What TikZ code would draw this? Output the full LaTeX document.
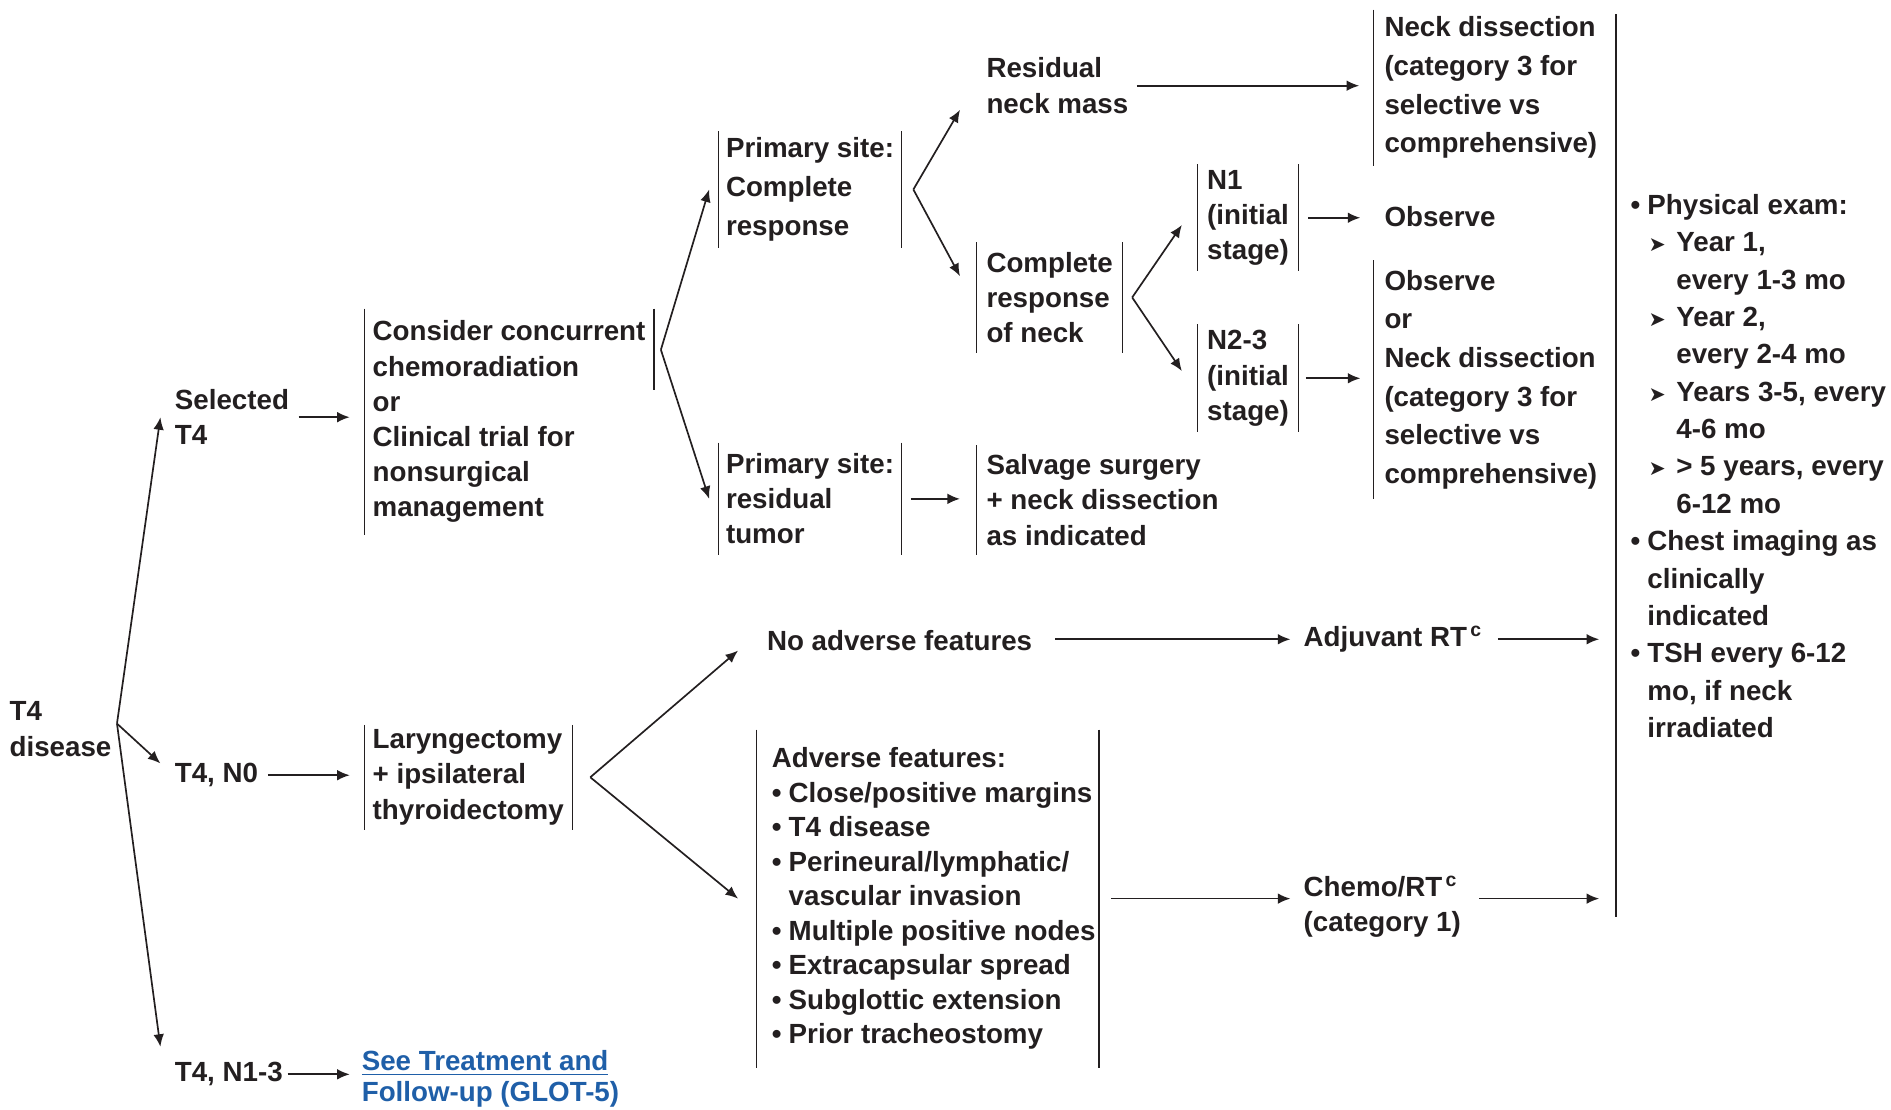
\documentclass[tikz,border=0pt]{standalone}
\usepackage{fontspec}
\setmainfont{Liberation Sans}
\newfontfamily\dvfont{DejaVu Sans}
\usetikzlibrary{arrows.meta}
\definecolor{ink}{HTML}{231F20}
\definecolor{linkblue}{HTML}{1F5FA8}
\newcommand{\ftA}{\fontsize{11.5pt}{14.6pt}\selectfont\bfseries}
\newcommand{\ftB}{\fontsize{11.5pt}{16pt}\selectfont\bfseries}
\newcommand{\ftC}{\fontsize{11.5pt}{15.5pt}\selectfont\bfseries}
\newcommand{\ftD}{\fontsize{11.5pt}{14.3pt}\selectfont\bfseries}
\newcommand{\ftE}{\fontsize{11.5pt}{16.2pt}\selectfont\bfseries}
\newcommand{\bul}{\makebox[7pt][l]{•}}
\newcommand{\subarr}{\hspace*{7.5pt}\makebox[11.5pt][l]{{\dvfont\fontsize{8.5pt}{8.5pt}\selectfont ➤}}}
\begin{document}
\begin{tikzpicture}[x=0.5pt,y=-0.5pt,
  txt/.style={inner sep=0pt, outer sep=0pt, align=left, anchor=north west, text=ink, font=\ftA},
  bar/.style={draw=ink, line width=0.5pt},
  arr/.style={draw=ink, line width=0.7pt, -{Latex[length=5.2pt,width=4.4pt]}}]
\useasboundingbox (0,0) rectangle (1568,920);

% ---- nodes ----
\node[txt] (t4) at (8,582) {T4\\disease};
\node[txt] (selT4) at (145,323) {Selected\\T4};
\node[txt] (t4n0) at (145,633) {T4, N0};
\node[txt] (t4n13) at (145,881) {T4, N1-3};
\node[txt, text=linkblue, font=\fontsize{11.5pt}{13pt}\selectfont\bfseries] (see) at (300,871)
  {\underline{See Treatment and}\\\underline{Follow-up (GLOT-5)}};

\node[txt, inner xsep=3.5pt, inner ysep=5pt] (consider) at (302,256)
  {Consider concurrent\\chemoradiation\\or\\Clinical trial for\\nonsurgical\\management};
\node[txt, font=\ftE, inner xsep=3pt, inner ysep=2.5pt] (psC) at (596,109)
  {Primary site:\\Complete\\response};
\node[txt] (resid) at (818,48) {Residual\\neck mass};
\node[txt, font=\ftB, inner xsep=4.5pt, inner ysep=3pt] (nd1) at (1139,8)
  {Neck dissection\\(category 3 for\\selective vs\\comprehensive)};
\node[txt, inner xsep=4pt, inner ysep=4pt] (crn) at (810,201)
  {Complete\\response\\of neck};
\node[txt, inner xsep=4pt, inner ysep=2.5pt] (n1) at (993,136) {N1\\(initial\\stage)};
\node[txt] (obs) at (1148,171) {Observe};
\node[txt, inner xsep=4pt, inner ysep=2.5pt] (n23) at (993,269) {N2-3\\(initial\\stage)};
\node[txt, font=\ftB, inner xsep=4.5pt, inner ysep=4pt] (nd2) at (1139,216)
  {Observe\\or\\Neck dissection\\(category 3 for\\selective vs\\comprehensive)};
\node[txt, inner xsep=3pt, inner ysep=4.5pt] (psR) at (596,367)
  {Primary site:\\residual\\tumor};
\node[txt, inner xsep=4pt, inner ysep=4pt] (salv) at (810,369)
  {Salvage surgery\\+ neck dissection\\as indicated};
\node[txt, inner xsep=3.5pt, inner ysep=2pt] (lar) at (302,601)
  {Laryngectomy\\+ ipsilateral\\thyroidectomy};
\node[txt] (noadv) at (636,523) {No adverse features};
\node[txt] (adj) at (1081,519) {Adjuvant RT\textsuperscript{\,c}};
\node[txt, font=\ftD, inner xsep=6.5pt, inner ysep=7.5pt] (adv) at (627,605)
  {Adverse features:\\
   \bul Close/positive margins\\
   \bul T4 disease\\
   \bul Perineural/lymphatic/\\
   \hspace*{7pt}vascular invasion\\
   \bul Multiple positive nodes\\
   \bul Extracapsular spread\\
   \bul Subglottic extension\\
   \bul Prior tracheostomy};
\node[txt] (chemo) at (1081,726) {Chemo/RT\textsuperscript{\,c}\\(category 1)};
\node[txt, font=\ftC, inner xsep=6pt, inner ysep=0pt] (fu) at (1340,161)
  {\bul Physical exam:\\
   \subarr Year 1,\\
   \hspace*{19pt}every 1-3 mo\\
   \subarr Year 2,\\
   \hspace*{19pt}every 2-4 mo\\
   \subarr Years 3-5, every\\
   \hspace*{19pt}4-6 mo\\
   \subarr > 5 years, every\\
   \hspace*{19pt}6-12 mo\\
   \bul Chest imaging as\\
   \hspace*{7pt}clinically\\
   \hspace*{7pt}indicated\\
   \bul TSH every 6-12\\
   \hspace*{7pt}mo, if neck\\
   \hspace*{7pt}irradiated};

% ---- bracket bars ----
\draw[bar] (consider.north west) -- (consider.south west);
\draw[bar] (consider.north east) -- ++(0,67);
\draw[bar] (psC.north west) -- (psC.south west);
\draw[bar] (psC.north east) -- (psC.south east);
\draw[bar] (nd1.north west) -- (nd1.south west);
\draw[bar] (crn.north west) -- (crn.south west);
\draw[bar] (crn.north east) -- (crn.south east);
\draw[bar] (n1.north west) -- (n1.south west);
\draw[bar] (n1.north east) -- (n1.south east);
\draw[bar] (n23.north west) -- (n23.south west);
\draw[bar] (n23.north east) -- (n23.south east);
\draw[bar] (nd2.north west) -- (nd2.south west);
\draw[bar] (psR.north west) -- (psR.south west);
\draw[bar] (psR.north east) -- (psR.south east);
\draw[bar] (salv.north west) -- (salv.south west);
\draw[bar] (lar.north west) -- (lar.south west);
\draw[bar] (lar.north east) -- (lar.south east);
\draw[bar] (adv.north west) -- (adv.south west);
\draw[bar] ([xshift=-5pt]adv.north east) -- ([xshift=-5pt]adv.south east);
\draw[bar, line width=0.6pt] (fu.west |- 0,12) -- (fu.west |- 0,760);

% ---- connectors ----
\coordinate (t4b) at (97,600);
\draw[arr] (t4b) -- ([xshift=-6pt]selT4.west);
\draw[arr] (t4b) -- ([xshift=-6pt]t4n0.north west);
\draw[arr] (t4b) -- ([xshift=-6pt,yshift=6.5pt]t4n13.north west);
\draw[arr, shorten <=4pt, shorten >=6pt] (selT4.east) -- (selT4.east -| consider.west);
\draw[arr, shorten <=4pt, shorten >=6pt] (t4n0.east) -- (t4n0.east -| lar.west);
\draw[arr, shorten <=2pt, shorten >=5pt] (t4n13.east) -- (t4n13.east -| see.west);

\coordinate (cb) at (548,290);
\draw[arr] (cb) -- ([xshift=-4pt]psC.west);
\draw[arr] (cb) -- ([xshift=-4pt]psR.west);

\coordinate (psCb) at ([xshift=5pt]psC.east);
\draw[arr] (psCb) -- ([xshift=-11pt,yshift=1.5pt]resid.south west);
\draw[arr] (psCb) -- ([xshift=-7pt,yshift=-14pt]crn.north west);
\draw[arr, shorten <=3.5pt, shorten >=6pt] (resid.east) -- (resid.east -| nd1.west);

\coordinate (crnb) at ([xshift=4pt]crn.east);
\draw[arr] (crnb) -- ([xshift=-6.5pt,yshift=-3pt]n1.west);
\draw[arr] (crnb) -- ([xshift=-6.5pt,yshift=3pt]n23.west);
\draw[arr, shorten <=4pt, shorten >=10pt] (n1.east) -- (n1.east -| obs.west);
\draw[arr, shorten <=3pt, shorten >=5.5pt] (n23.east) -- (n23.east -| nd2.west);
\draw[arr, shorten <=4pt, shorten >=7pt] (psR.east) -- (psR.east -| salv.west);

\coordinate (larb) at ([xshift=7.5pt]lar.east);
\draw[arr] (larb) -- ([xshift=-12pt,yshift=-4pt]noadv.west);
\draw[arr] (larb) -- ([xshift=-7.5pt]adv.west);
\draw[arr, shorten <=9.5pt, shorten >=5.5pt] (noadv.east |- adj.west) -- (adj.west);
\draw[arr, shorten <=6.5pt, shorten >=7pt] (adj.east) -- (adj.east -| fu.west);
\draw[arr, shorten >=5.5pt] (adv.east) -- (adv.east -| chemo.west);
\draw[arr, shorten <=7.5pt, shorten >=7pt] (chemo.east |- adv.east) -- (adv.east -| fu.west);
\end{tikzpicture}
\end{document}
